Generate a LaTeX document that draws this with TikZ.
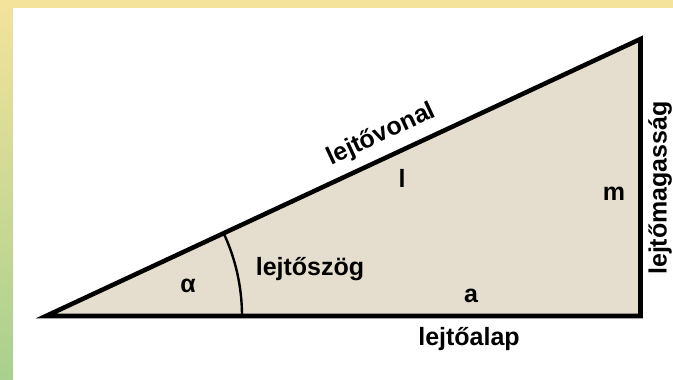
\documentclass[tikz,border=0pt]{standalone}
\usepackage{fontspec}
\setmainfont{Liberation Sans}
\usetikzlibrary{calc,positioning}
\definecolor{lejtoszin}{RGB}{229,222,206}
\definecolor{keretsarga}{RGB}{243,227,155}
\definecolor{keretzold}{RGB}{169,208,142}
\tikzset{
  felirat/.style={font=\bfseries\fontsize{18.75}{20}\selectfont, inner sep=0pt},
  oldal/.style={line width=3.4pt, line join=miter},
}
\begin{document}
\begin{tikzpicture}[x=0.75pt,y=-0.75pt]
  \useasboundingbox (0,0) rectangle (673,379);
  % keret
  \fill[white] (0,0) rectangle (673,379);
  \shade[top color=keretsarga,bottom color=keretzold] (0,0) rectangle (13,379);
  \fill[keretsarga] (0,0) rectangle (673,8);
  % a lejto csucsai
  \coordinate (A) at (46,316);
  \coordinate (B) at (640.5,39);
  \coordinate (C) at (640.5,316);
  \fill[lejtoszin] (A) -- (B) -- (C) -- cycle;
  \draw[oldal] (A) -- (B) -- (C) -- cycle;
  % a szog ive
  \draw[line width=1.8pt] ($(A)+(196,0)$) arc[start angle=0,end angle=25,radius=147pt];
  % feliratok
  \path (A) -- (B) node[felirat, pos=0.58, sloped, above=8pt] (vonal) {lejtővonal};
  \node[felirat, rotate=90] (magassag) at (660,188) {lejtőmagasság};
  \node[felirat, anchor=base] (alap) at (469,345) {lejtőalap};
  \node[felirat, anchor=base] (szog) at (310,275) {lejtőszög};
  \node[felirat, anchor=base] (alfa) at (188,292) {α};
  \node[felirat, anchor=base] (l) at (402,187) {l};
  \node[felirat, anchor=base] (m) at (614,200) {m};
  \node[felirat, anchor=base] (a) at (471,302) {a};
\end{tikzpicture}
\end{document}
